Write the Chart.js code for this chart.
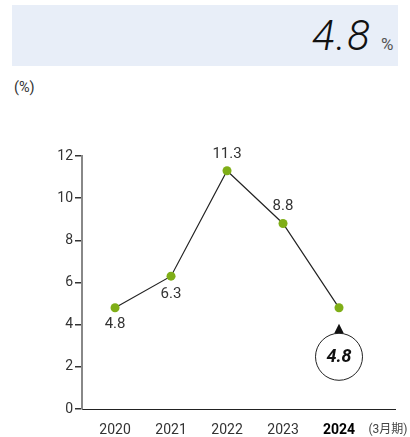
<!DOCTYPE html>
<html>
<head>
<meta charset="utf-8">
<script src="https://cdn.jsdelivr.net/npm/chart.js@4/dist/chart.umd.min.js"></script>
<style>
  html, body { margin: 0; padding: 0; background: #fff; }
  body { width: 410px; height: 437px; position: relative; overflow: hidden; font-family: Roboto, "Noto Sans CJK JP", sans-serif; }
  #hdr { position: absolute; left: 12px; top: 5px; width: 386px; height: 61px; background: #e8eef8; }
  #big { position: absolute; left: 312px; top: 15px; font: italic 300 42px Roboto, sans-serif; line-height: 42px; letter-spacing: 1.5px; color: #111; white-space: nowrap; }
  #pct { position: absolute; left: 381px; top: 36px; font: 400 17px Roboto, sans-serif; line-height: 17px; color: #555; }
  #unit { position: absolute; left: 14px; top: 79px; font: 400 14.5px Roboto, sans-serif; line-height: 17px; color: #333; }
  canvas { position: absolute; left: 0; top: 0; }
</style>
</head>
<body>
<div id="hdr"></div>
<div id="big">4.8</div>
<div id="pct">%</div>
<div id="unit">(%)</div>
<canvas id="c" width="410" height="437"></canvas>
<script>
const years = [2020, 2021, 2022, 2023, 2024];
const values = [4.8, 6.3, 11.3, 8.8, 4.8];
const labelPlacement = ['below', 'below', 'above', 'above', 'callout'];
const yTicks = [0, 2, 4, 6, 8, 10, 12];
const periodNote = '(3月期)';
const highlightYear = 2024;

const labelsPlugin = {
  id: 'labels',
  afterDatasetsDraw(chart) {
    const ctx = chart.ctx;
    const meta = chart.getDatasetMeta(0);
    ctx.save();
    meta.data.forEach((pt, i) => {
      const txt = values[i].toFixed(1);
      const pos = labelPlacement[i];
      if (pos === 'callout') {
        ctx.fillStyle = '#111';
        ctx.beginPath();
        ctx.moveTo(pt.x, pt.y + 16);
        ctx.lineTo(pt.x - 5, pt.y + 26);
        ctx.lineTo(pt.x + 5, pt.y + 26);
        ctx.closePath();
        ctx.fill();
        ctx.beginPath();
        ctx.arc(pt.x, pt.y + 49, 23.5, 0, Math.PI * 2);
        ctx.fillStyle = '#fff';
        ctx.fill();
        ctx.lineWidth = 1;
        ctx.strokeStyle = '#222';
        ctx.stroke();
        ctx.fillStyle = '#111';
        ctx.font = 'italic bold 18px Roboto, sans-serif';
        ctx.textAlign = 'center';
        ctx.textBaseline = 'middle';
        ctx.fillText(txt, pt.x, pt.y + 50);
      } else {
        ctx.fillStyle = '#333';
        ctx.font = '400 15px Roboto, sans-serif';
        ctx.textAlign = 'center';
        ctx.textBaseline = 'middle';
        const dy = pos === 'below' ? (i === 0 ? 16 : 18) : -17;
        ctx.fillText(txt, pt.x, pt.y + dy);
      }
    });
    ctx.fillStyle = '#444';
    ctx.font = '400 12px Roboto, "Noto Sans CJK JP", sans-serif';
    ctx.textAlign = 'center';
    ctx.textBaseline = 'middle';
    ctx.fillText(periodNote, 388, 430);
    ctx.restore();
  }
};

new Chart(document.getElementById('c'), {
  type: 'line',
  data: {
    datasets: [{
      data: years.map((y, i) => ({ x: y, y: values[i] })),
      borderColor: '#222',
      borderWidth: 1.2,
      pointBackgroundColor: '#7fae17',
      pointBorderWidth: 0,
      pointRadius: 4.5,
      pointHoverRadius: 4.5,
      tension: 0,
      clip: false
    }]
  },
  options: {
    responsive: false,
    animation: false,
    events: [],
    layout: { padding: { top: 156, right: 15, left: 0, bottom: 0 } },
    plugins: { legend: { display: false }, tooltip: { enabled: false } },
    scales: {
      x: {
        type: 'linear',
        min: 2019.41,
        max: 2025.0,
        afterBuildTicks: s => { s.ticks = years.map(v => ({ value: v })); },
        afterFit: s => { s.height = 28; },
        grid: { display: true, drawOnChartArea: false, drawTicks: false, color: '#222', lineWidth: 1 },
        border: { display: true, color: '#222', width: 1 },
        ticks: {
          padding: 13,
          color: ctx => ctx.tick && ctx.tick.value === highlightYear ? '#000' : '#333',
          font: ctx => ({ family: 'Roboto, sans-serif', size: 14, weight: ctx.tick && ctx.tick.value === highlightYear ? 'bold' : 'normal' }),
          callback: v => String(v),
          maxRotation: 0,
          autoSkip: false
        }
      },
      y: {
        min: 0,
        max: 12,
        afterBuildTicks: s => { s.ticks = yTicks.map(v => ({ value: v })); },
        afterFit: s => { s.width = 82; },
        grid: { display: true, drawOnChartArea: false, drawTicks: true, tickLength: 7, color: '#333', lineWidth: 1.5 },
        border: { display: true, color: '#888', width: 2 },
        ticks: {
          padding: 2,
          color: '#333',
          font: { family: 'Roboto, sans-serif', size: 14 }
        }
      }
    }
  },
  plugins: [labelsPlugin]
});
</script>
</body>
</html>
